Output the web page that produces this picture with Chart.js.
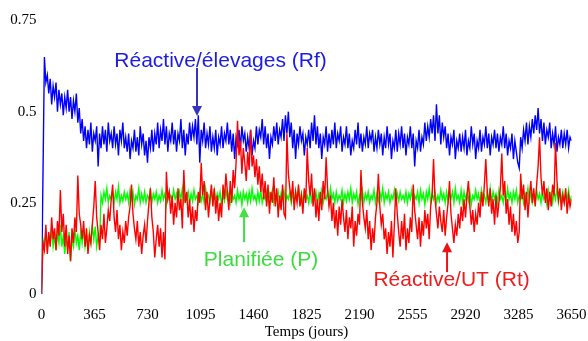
<!DOCTYPE html>
<html>
<head>
<meta charset="utf-8">
<script src="https://cdn.jsdelivr.net/npm/chart.js@4.4.1/dist/chart.umd.min.js"></script>
<style>
html, body { margin: 0; padding: 0; background: #fff; }
#wrap { width: 588px; height: 341px; }
</style>
</head>
<body>
<div id="wrap"><canvas id="chart"></canvas></div>
<script>
// one reading every 10 days, 0 .. 3650
const STEP_DAYS = 10;
const xTickValues = [0, 365, 730, 1095, 1460, 1825, 2190, 2555, 2920, 3285, 3650];
const yTickValues = [0, 0.25, 0.5, 0.75];

// Réactive/élevages (Rf)
const rfValues = [
  0, 0.32, 0.65, 0.58, 0.60, 0.55, 0.59, 0.52, 0.57, 0.54,
  0.58, 0.50, 0.56, 0.52, 0.55, 0.49, 0.54, 0.51, 0.56, 0.50,
  0.54, 0.48, 0.53, 0.50, 0.55, 0.47, 0.51, 0.44, 0.48, 0.42,
  0.46, 0.40, 0.45, 0.41, 0.47, 0.39, 0.44, 0.42, 0.46, 0.35,
  0.44, 0.40, 0.46, 0.41, 0.45, 0.39, 0.47, 0.42, 0.44, 0.40,
  0.46, 0.41, 0.44, 0.38, 0.45, 0.42, 0.47, 0.40, 0.43, 0.39,
  0.44, 0.37, 0.42, 0.40, 0.45, 0.39, 0.43, 0.38, 0.46, 0.41,
  0.44, 0.38, 0.42, 0.36, 0.43, 0.40, 0.45, 0.39, 0.44, 0.41,
  0.47, 0.40, 0.45, 0.42, 0.48, 0.41, 0.46, 0.39, 0.44, 0.42,
  0.47, 0.41, 0.45, 0.39, 0.44, 0.42, 0.48, 0.40, 0.45, 0.38,
  0.44, 0.41, 0.47, 0.42, 0.46, 0.43, 0.48, 0.41, 0.49, 0.36,
  0.45, 0.42, 0.47, 0.40, 0.44, 0.41, 0.46, 0.39, 0.43, 0.40,
  0.45, 0.38, 0.43, 0.41, 0.46, 0.40, 0.44, 0.42, 0.47, 0.41,
  0.45, 0.39, 0.44, 0.37, 0.43, 0.41, 0.45, 0.40, 0.46, 0.42,
  0.44, 0.39, 0.43, 0.40, 0.45, 0.38, 0.42, 0.40, 0.46, 0.41,
  0.45, 0.43, 0.48, 0.41, 0.46, 0.40, 0.44, 0.37, 0.43, 0.41,
  0.46, 0.42, 0.47, 0.41, 0.45, 0.43, 0.48, 0.42, 0.49, 0.44,
  0.50, 0.43, 0.47, 0.40, 0.45, 0.37, 0.44, 0.41, 0.46, 0.42,
  0.44, 0.38, 0.43, 0.41, 0.45, 0.40, 0.47, 0.42, 0.49, 0.41,
  0.46, 0.40, 0.44, 0.37, 0.43, 0.41, 0.46, 0.39, 0.44, 0.40,
  0.45, 0.41, 0.47, 0.40, 0.44, 0.42, 0.46, 0.39, 0.43, 0.41,
  0.46, 0.40, 0.44, 0.38, 0.42, 0.40, 0.45, 0.41, 0.47, 0.40,
  0.44, 0.39, 0.43, 0.41, 0.46, 0.40, 0.44, 0.42, 0.45, 0.39,
  0.43, 0.40, 0.45, 0.41, 0.44, 0.38, 0.43, 0.40, 0.46, 0.41,
  0.44, 0.37, 0.42, 0.40, 0.45, 0.39, 0.44, 0.41, 0.46, 0.40,
  0.44, 0.38, 0.43, 0.41, 0.46, 0.40, 0.44, 0.35, 0.42, 0.40,
  0.45, 0.39, 0.43, 0.41, 0.47, 0.42, 0.46, 0.43, 0.48, 0.44,
  0.49, 0.42, 0.52, 0.44, 0.49, 0.41, 0.47, 0.43, 0.46, 0.40,
  0.44, 0.38, 0.43, 0.41, 0.45, 0.37, 0.42, 0.40, 0.44, 0.39,
  0.43, 0.40, 0.45, 0.38, 0.42, 0.40, 0.46, 0.41, 0.44, 0.37,
  0.42, 0.40, 0.45, 0.39, 0.43, 0.41, 0.46, 0.40, 0.44, 0.38,
  0.43, 0.41, 0.45, 0.40, 0.44, 0.39, 0.43, 0.41, 0.46, 0.40,
  0.44, 0.38, 0.42, 0.40, 0.44, 0.37, 0.42, 0.39, 0.36, 0.345,
  0.43, 0.40, 0.45, 0.42, 0.47, 0.41, 0.46, 0.43, 0.48, 0.44,
  0.49, 0.45, 0.51, 0.44, 0.48, 0.42, 0.47, 0.41, 0.45, 0.43,
  0.47, 0.40, 0.44, 0.41, 0.46, 0.39, 0.43, 0.41, 0.45, 0.40,
  0.44, 0.41, 0.45, 0.40, 0.43, 0.42
];

// Planifiée (P)
const pValues = [
  0, 0.15, 0.13, 0.17, 0.12, 0.16, 0.14, 0.18, 0.13, 0.16,
  0.12, 0.17, 0.14, 0.19, 0.13, 0.16, 0.11, 0.15, 0.13, 0.17,
  0.09, 0.15, 0.13, 0.18, 0.14, 0.16, 0.12, 0.17, 0.14, 0.18,
  0.13, 0.16, 0.12, 0.17, 0.14, 0.19, 0.15, 0.185, 0.13, 0.16,
  0.14, 0.27, 0.25, 0.28, 0.26, 0.29, 0.25, 0.27, 0.26, 0.28,
  0.25, 0.28, 0.26, 0.295, 0.25, 0.27, 0.255, 0.28, 0.26, 0.275,
  0.25, 0.285, 0.26, 0.28, 0.245, 0.27, 0.26, 0.29, 0.25, 0.275,
  0.255, 0.28, 0.25, 0.27, 0.26, 0.285, 0.25, 0.275, 0.26, 0.28,
  0.25, 0.27, 0.255, 0.285, 0.26, 0.275, 0.245, 0.28, 0.26, 0.27,
  0.255, 0.285, 0.26, 0.275, 0.25, 0.28, 0.26, 0.29, 0.25, 0.27,
  0.26, 0.28, 0.25, 0.275, 0.255, 0.285, 0.26, 0.27, 0.25, 0.28,
  0.255, 0.275, 0.25, 0.29, 0.26, 0.27, 0.25, 0.28, 0.26, 0.285,
  0.25, 0.275, 0.26, 0.28, 0.245, 0.27, 0.255, 0.285, 0.26, 0.275,
  0.25, 0.28, 0.26, 0.27, 0.25, 0.285, 0.26, 0.275, 0.245, 0.28,
  0.26, 0.275, 0.25, 0.28, 0.255, 0.29, 0.26, 0.27, 0.25, 0.28,
  0.255, 0.285, 0.25, 0.27, 0.26, 0.28, 0.25, 0.275, 0.26, 0.285,
  0.25, 0.27, 0.26, 0.28, 0.245, 0.275, 0.26, 0.285, 0.25, 0.27,
  0.26, 0.28, 0.25, 0.275, 0.255, 0.28, 0.26, 0.29, 0.25, 0.275,
  0.25, 0.28, 0.26, 0.27, 0.25, 0.285, 0.255, 0.275, 0.26, 0.28,
  0.245, 0.275, 0.26, 0.285, 0.25, 0.27, 0.26, 0.28, 0.25, 0.29,
  0.26, 0.275, 0.25, 0.28, 0.255, 0.27, 0.26, 0.285, 0.25, 0.275,
  0.255, 0.28, 0.26, 0.29, 0.25, 0.275, 0.26, 0.28, 0.245, 0.27,
  0.26, 0.285, 0.25, 0.275, 0.26, 0.28, 0.25, 0.27, 0.26, 0.285,
  0.25, 0.275, 0.255, 0.28, 0.26, 0.29, 0.25, 0.275, 0.26, 0.28,
  0.25, 0.27, 0.26, 0.285, 0.25, 0.275, 0.255, 0.28, 0.26, 0.27,
  0.255, 0.28, 0.25, 0.275, 0.26, 0.285, 0.25, 0.27, 0.26, 0.28,
  0.25, 0.285, 0.26, 0.275, 0.245, 0.28, 0.26, 0.29, 0.25, 0.275,
  0.26, 0.28, 0.25, 0.27, 0.255, 0.285, 0.26, 0.275, 0.25, 0.28,
  0.255, 0.275, 0.26, 0.28, 0.25, 0.29, 0.26, 0.27, 0.25, 0.285,
  0.25, 0.28, 0.26, 0.275, 0.255, 0.28, 0.245, 0.27, 0.26, 0.285,
  0.26, 0.275, 0.25, 0.285, 0.26, 0.27, 0.25, 0.28, 0.255, 0.29,
  0.25, 0.28, 0.26, 0.275, 0.25, 0.285, 0.26, 0.27, 0.25, 0.28,
  0.255, 0.29, 0.26, 0.275, 0.25, 0.28, 0.26, 0.285, 0.25, 0.27,
  0.26, 0.28, 0.25, 0.275, 0.26, 0.29, 0.255, 0.28, 0.25, 0.27,
  0.25, 0.285, 0.26, 0.275, 0.25, 0.28, 0.26, 0.27, 0.245, 0.285,
  0.26, 0.275, 0.25, 0.28, 0.26, 0.29, 0.25, 0.275, 0.26, 0.28,
  0.25, 0.275, 0.26, 0.285, 0.25, 0.27
];

// Réactive/UT (Rt)
const rtValues = [
  0, 0.14, 0.12, 0.19, 0.11, 0.17, 0.13, 0.21, 0.15, 0.18,
  0.12, 0.20, 0.16, 0.285, 0.17, 0.22, 0.13, 0.19, 0.11, 0.16,
  0.09, 0.18, 0.14, 0.21, 0.17, 0.325, 0.22, 0.19, 0.15, 0.20,
  0.13, 0.18, 0.11, 0.16, 0.14, 0.19, 0.24, 0.31, 0.21, 0.17,
  0.12, 0.19, 0.15, 0.22, 0.14, 0.18, 0.23, 0.20, 0.26, 0.30,
  0.21, 0.17, 0.23, 0.15, 0.19, 0.12, 0.17, 0.14, 0.20, 0.16,
  0.21, 0.24, 0.30, 0.22, 0.18, 0.15, 0.20, 0.13, 0.17, 0.11,
  0.16, 0.19, 0.14, 0.20, 0.25, 0.29, 0.21, 0.17, 0.10, 0.15,
  0.19, 0.13, 0.18, 0.10, 0.17, 0.095, 0.335, 0.26, 0.28, 0.22,
  0.27, 0.19, 0.25, 0.21, 0.29, 0.23, 0.26, 0.18, 0.34, 0.25,
  0.28, 0.21, 0.26, 0.19, 0.24, 0.17, 0.23, 0.20, 0.28, 0.25,
  0.36, 0.27, 0.31, 0.23, 0.28, 0.21, 0.26, 0.30, 0.24, 0.29,
  0.22, 0.27, 0.20, 0.25, 0.21, 0.30, 0.26, 0.33, 0.28, 0.23,
  0.31, 0.25, 0.34, 0.29, 0.36, 0.475, 0.38, 0.42, 0.33, 0.40,
  0.36, 0.31, 0.39, 0.34, 0.45, 0.35, 0.38, 0.32, 0.37, 0.30,
  0.35, 0.28, 0.33, 0.26, 0.31, 0.24, 0.30, 0.22, 0.28, 0.25,
  0.32, 0.24, 0.29, 0.21, 0.27, 0.23, 0.30, 0.22, 0.21, 0.44,
  0.33, 0.29, 0.26, 0.31, 0.23, 0.28, 0.25, 0.30, 0.24, 0.27,
  0.22, 0.29, 0.25, 0.40, 0.31, 0.27, 0.33, 0.24, 0.29, 0.21,
  0.26, 0.20, 0.28, 0.23, 0.31, 0.26, 0.375, 0.29, 0.24, 0.27,
  0.20, 0.25, 0.18, 0.23, 0.16, 0.24, 0.19, 0.26, 0.21, 0.17,
  0.23, 0.15, 0.21, 0.18, 0.24, 0.13, 0.20, 0.16, 0.22, 0.19,
  0.34, 0.25, 0.21, 0.18, 0.23, 0.15, 0.20, 0.12, 0.18, 0.14,
  0.21, 0.25, 0.33, 0.24, 0.19, 0.22, 0.15, 0.18, 0.11, 0.17,
  0.13, 0.20, 0.10, 0.19, 0.29, 0.22, 0.17, 0.13, 0.20, 0.15,
  0.22, 0.12, 0.18, 0.14, 0.21, 0.17, 0.30, 0.23, 0.19, 0.15,
  0.21, 0.13, 0.20, 0.16, 0.23, 0.18, 0.22, 0.15, 0.24, 0.27,
  0.37, 0.26, 0.22, 0.18, 0.24, 0.20, 0.17, 0.23, 0.16, 0.21,
  0.25, 0.31, 0.22, 0.18, 0.14, 0.19, 0.16, 0.22, 0.18, 0.24,
  0.20, 0.26, 0.21, 0.27, 0.31, 0.24, 0.19, 0.23, 0.17, 0.22,
  0.19, 0.25, 0.21, 0.28, 0.24, 0.30, 0.37, 0.28, 0.24, 0.29,
  0.22, 0.26, 0.19, 0.27, 0.21, 0.25, 0.29, 0.385, 0.27, 0.31,
  0.22, 0.26, 0.19, 0.24, 0.17, 0.22, 0.16, 0.20, 0.14, 0.17,
  0.33, 0.26, 0.30, 0.23, 0.28, 0.21, 0.27, 0.31, 0.25, 0.29,
  0.24, 0.30, 0.35, 0.43, 0.32, 0.27, 0.31, 0.25, 0.29, 0.23,
  0.28, 0.24, 0.30, 0.27, 0.415, 0.31, 0.26, 0.29, 0.23, 0.27,
  0.25, 0.29, 0.22, 0.27, 0.24, 0.26
];

function toPoints(values) {
  return values.map((v, i) => ({ x: i * STEP_DAYS, y: v }));
}

// text + arrow notes, placed in data units
const notes = [
  { text: "Réactive/élevages (Rf)", color: "#1c1ce0", arrowColor: "#3434c0", x: 1233, y: 0.622, ax: 1071, ay1: 0.62, ay2: 0.488 },
  { text: "Planifiée (P)", color: "#3ddc3d", arrowColor: "#44e044", x: 1512, y: 0.078, ax: 1395, ay1: 0.142, ay2: 0.238 },
  { text: "Réactive/UT (Rt)", color: "#ee1c1c", arrowColor: "#ee1111", x: 2824, y: 0.021, ax: 2793, ay1: 0.060, ay2: 0.142 }
];

function drawArrow(ctx, x, y1, y2, color) {
  const dir = y2 > y1 ? 1 : -1;
  ctx.strokeStyle = color;
  ctx.fillStyle = color;
  ctx.lineWidth = 2;
  ctx.beginPath();
  ctx.moveTo(x, y1);
  ctx.lineTo(x, y2 - dir * 9);
  ctx.stroke();
  ctx.beginPath();
  ctx.moveTo(x, y2);
  ctx.lineTo(x - 5, y2 - dir * 10);
  ctx.lineTo(x + 5, y2 - dir * 10);
  ctx.closePath();
  ctx.fill();
}

const notesPlugin = {
  id: "notes",
  afterDatasetsDraw(chart) {
    const ctx = chart.ctx, sx = chart.scales.x, sy = chart.scales.y;
    ctx.save();
    ctx.font = "21px 'Liberation Sans', Arial, sans-serif";
    ctx.textAlign = "center";
    ctx.textBaseline = "alphabetic";
    notes.forEach(n => {
      ctx.fillStyle = n.color;
      ctx.fillText(n.text, sx.getPixelForValue(n.x), sy.getPixelForValue(n.y));
      drawArrow(ctx, sx.getPixelForValue(n.ax), sy.getPixelForValue(n.ay1), sy.getPixelForValue(n.ay2), n.arrowColor);
    });
    ctx.restore();
  }
};

const serif = { family: "'Liberation Serif', 'Times New Roman', serif", size: 15 };

new Chart(document.getElementById("chart"), {
  type: "line",
  data: {
    datasets: [
      { label: "Rt", data: toPoints(rtValues), borderColor: "#ff0000", borderWidth: 1.4, pointRadius: 0, tension: 0, order: 1 },
      { label: "Rf", data: toPoints(rfValues), borderColor: "#0000ff", borderWidth: 1.4, pointRadius: 0, tension: 0, order: 2 },
      { label: "P", data: toPoints(pValues), borderColor: "#00ff00", borderWidth: 1.4, pointRadius: 0, tension: 0, order: 3 }
    ]
  },
  options: {
    animation: false,
    responsive: true,
    maintainAspectRatio: false,
    layout: { padding: { left: 0, right: 16.5, top: 20.5, bottom: 0 } },
    plugins: {
      legend: { display: false },
      tooltip: { enabled: false },
      title: { display: false }
    },
    scales: {
      x: {
        type: "linear",
        min: 0,
        max: 3650,
        grid: { display: false, drawTicks: false },
        border: { display: false },
        afterBuildTicks: s => { s.ticks = xTickValues.map(v => ({ value: v })); },
        afterFit: s => { s.height = 47; s.paddingLeft = 0; s.paddingRight = 0; },
        ticks: { color: "#000", font: serif, padding: 12, maxRotation: 0, autoSkip: false, callback: v => String(v) },
        title: { display: true, text: "Temps (jours)", color: "#000", font: serif, padding: { top: 0, bottom: 0 } }
      },
      y: {
        min: 0,
        max: 0.75,
        grid: { display: false, drawTicks: false },
        border: { display: false },
        afterBuildTicks: s => { s.ticks = yTickValues.map(v => ({ value: v })); },
        afterFit: s => { s.width = 41.5; s.paddingTop = 0; s.paddingBottom = 0; },
        ticks: { color: "#000", font: serif, padding: 5, callback: v => String(v) }
      }
    }
  },
  plugins: [notesPlugin]
});
</script>
</body>
</html>
